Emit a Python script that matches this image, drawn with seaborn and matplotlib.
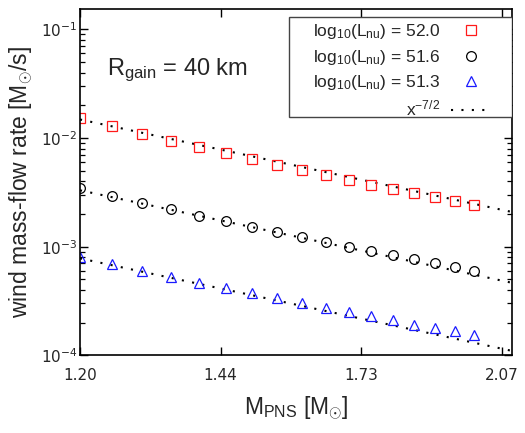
import numpy as np
import pandas as pd
import matplotlib
matplotlib.use("Agg")
import matplotlib.pyplot as plt
from matplotlib.patches import Rectangle
import seaborn as sns

# ---- data ----
m_pns = [1.20, 1.25, 1.30, 1.35, 1.40, 1.45, 1.50, 1.55, 1.60,
         1.65, 1.70, 1.75, 1.80, 1.85, 1.90, 1.95, 2.00]
rate_520 = [0.01526, 0.01288, 0.01098, 0.00939, 0.00827, 0.00729, 0.00634, 0.00565, 0.00505,
            0.00455, 0.00409, 0.00371, 0.00336, 0.00309, 0.00284, 0.00261, 0.00240]
rate_516 = [0.003477, 0.002918, 0.002534, 0.002205, 0.001925, 0.00171, 0.001526, 0.001364, 0.001227,
            0.001104, 0.001000, 0.000914, 0.000834, 0.000766, 0.000708, 0.000656, 0.000603]
rate_513 = [0.000799, 0.000694, 0.000602, 0.000527, 0.000467, 0.000415, 0.000374, 0.000336, 0.000302,
            0.000272, 0.000248, 0.000228, 0.000210, 0.000192, 0.000178, 0.000166, 0.000155]
series_labels = [r"log$_{\mathrm{10}}$(L$_{\mathrm{nu}}$) = 52.0",
                 r"log$_{\mathrm{10}}$(L$_{\mathrm{nu}}$) = 51.6",
                 r"log$_{\mathrm{10}}$(L$_{\mathrm{nu}}$) = 51.3"]
powerlaw_label = r"x$^{\mathrm{-7/2}}$"
# normalisation of the x^{-7/2} reference lines at M = 1.2
powerlaw_norm = [0.0148, 0.0033, 0.00078]
powerlaw_index = -3.5
x_ticks = [1.2, 1.44, 1.728, 2.0736]
x_ticklabels = ["1.20", "1.44", "1.73", "2.07"]

sns.set_style("ticks")
plt.rcParams["font.family"] = ["Liberation Sans", "DejaVu Sans"]
plt.rcParams["mathtext.fontset"] = "custom"
plt.rcParams["mathtext.rm"] = "Liberation Sans"
plt.rcParams["mathtext.it"] = "Liberation Sans:italic"
plt.rcParams["mathtext.bf"] = "Liberation Sans:bold"

fig = plt.figure(figsize=(5.25, 4.33), dpi=100)
ax = fig.add_axes([0.1524, 0.1794, 0.8223, 0.7991])

ax.set_xscale("log")
ax.set_yscale("log")

# power-law reference lines
xx = np.linspace(1.2, 2.1, 60)
for norm in powerlaw_norm:
    yy = norm * (xx / 1.2) ** powerlaw_index
    sns.lineplot(x=xx, y=yy, ax=ax, color="black", linewidth=1.5,
                 linestyle=(0, (1, 4)), sort=False, errorbar=None)
line_handle = ax.get_lines()[-1]

styles = [("s", "#ff1a1a", 7.4), ("o", "black", 7.0), ("^", "#1a1aff", 7.2)]
handles = []
for rates, (mk, col, ms) in zip([rate_520, rate_516, rate_513], styles):
    df = pd.DataFrame({"m": m_pns, "r": rates})
    sns.lineplot(data=df, x="m", y="r", ax=ax, marker=mk, linestyle="",
                 markersize=ms, markerfacecolor="none", markeredgecolor=col,
                 markeredgewidth=0.9, color=col, errorbar=None)
    handles.append(ax.get_lines()[-1])

ax.set_xlim(1.2, 2.1)
ax.set_ylim(1e-4, 0.1528)
ax.xaxis.set_major_locator(matplotlib.ticker.FixedLocator(x_ticks))
ax.xaxis.set_major_formatter(matplotlib.ticker.FixedFormatter(x_ticklabels))
ax.xaxis.set_minor_locator(matplotlib.ticker.NullLocator())

ax.tick_params(which="both", direction="in", top=True, right=True, color="black")
ax.tick_params(which="major", length=6, width=1.0)
ax.tick_params(which="minor", length=3.5, width=0.9)
ax.tick_params(axis="y", which="major", pad=2, labelsize=11)
ax.tick_params(axis="x", which="major", pad=9, labelsize=11)
for lab in ax.get_xticklabels() + ax.get_yticklabels():
    lab.set_fontfamily("DejaVu Sans")
for sp in ax.spines.values():
    sp.set_linewidth(1.2)
    sp.set_color("black")

ax.set_xlabel(r"M$_{\mathrm{PNS}}$ [M$_{{\odot}}$]", fontsize=16.5, labelpad=8)
ax.set_ylabel(r"wind mass-flow rate [M$_{{\odot}}$/s]", fontsize=16.5, labelpad=4)

ax.text(0.062, 0.81, r"R$_{\mathrm{gain}}$ = 40 km", transform=ax.transAxes,
        fontsize=17, va="baseline", ha="left")

# legend box (gnuplot style, labels right-aligned, symbols on the right)
box = Rectangle((0.4848, 0.6896), 0.5152, 0.2873, transform=ax.transAxes,
                facecolor="white", edgecolor="#444444", linewidth=1.0, zorder=4)
ax.add_patch(box)
leg = ax.legend(handles + [line_handle], series_labels + [powerlaw_label],
                loc="upper right", bbox_to_anchor=(0.952, 0.963), borderaxespad=0,
                markerfirst=False, fontsize=12.5, frameon=False,
                handlelength=2.3, handletextpad=0.6, labelspacing=0.38, borderpad=0)
leg.set_zorder(5)

fig.savefig("out.png", dpi=100)
